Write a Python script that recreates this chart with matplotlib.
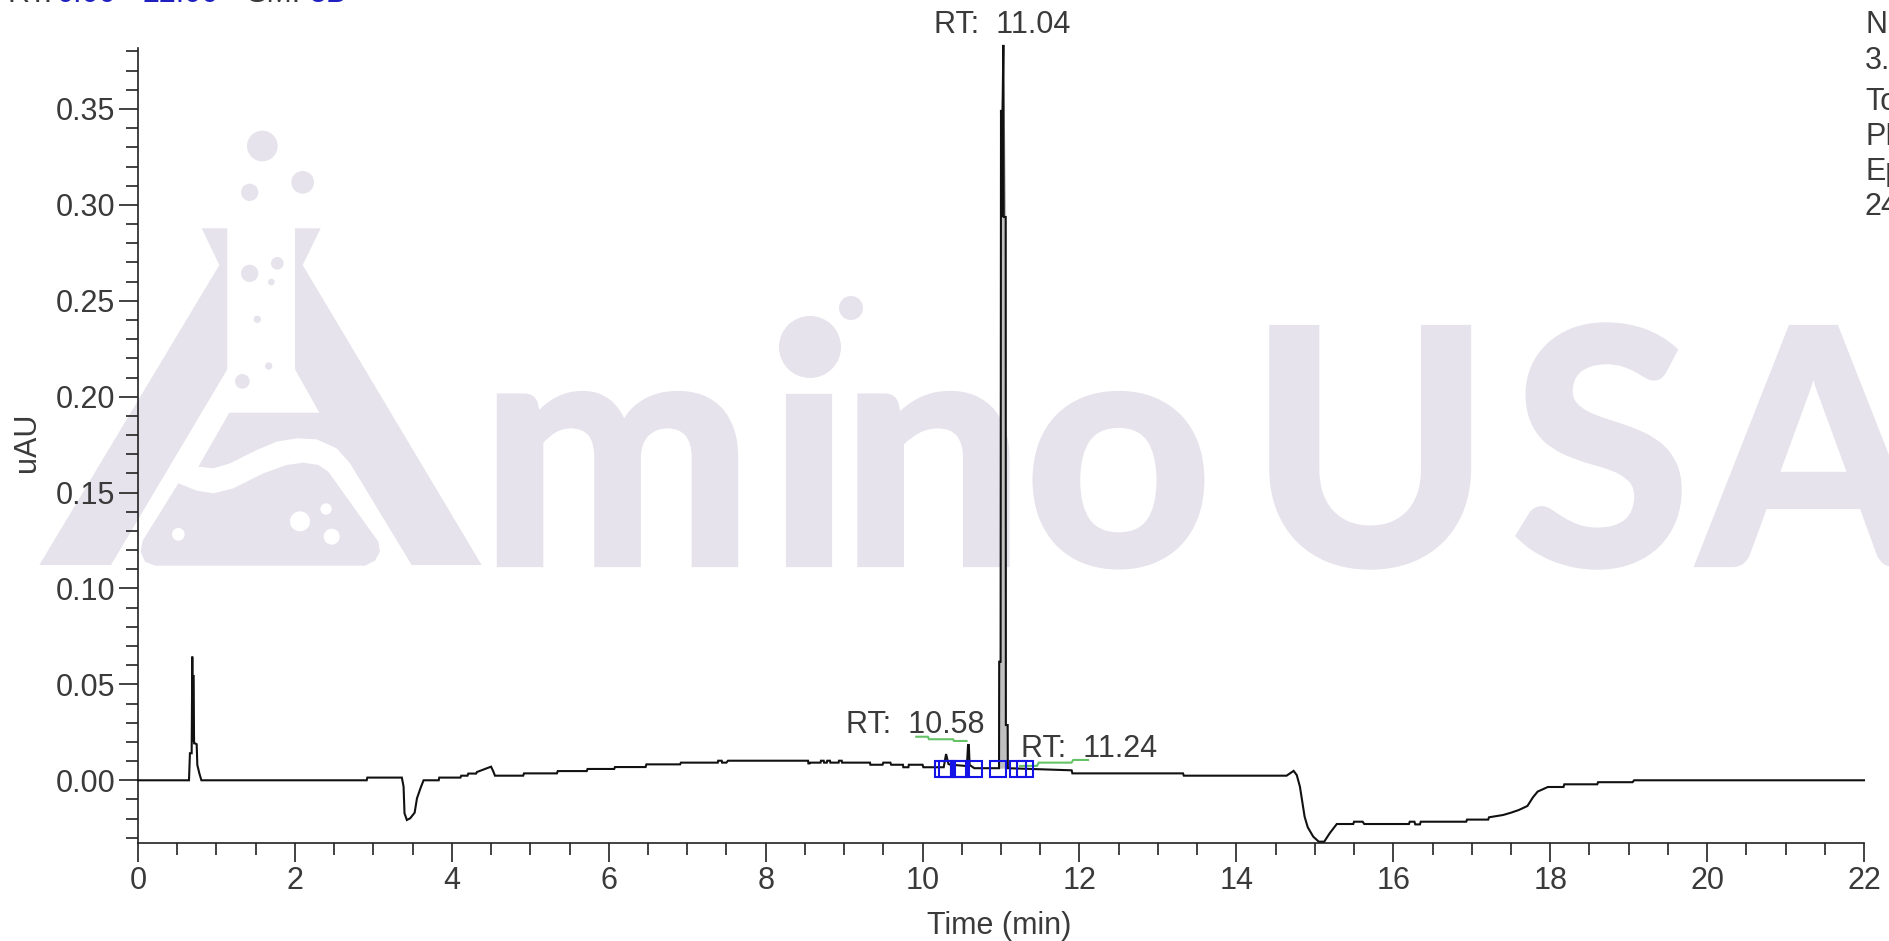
import matplotlib
matplotlib.use('Agg')
import matplotlib.pyplot as plt
import matplotlib.patheffects as pe
from matplotlib.patches import Polygon, Circle
from matplotlib.ticker import MultipleLocator, FixedLocator

# chromatogram trace
time_min = [0, 0.65, 0.662, 0.684, 0.692, 0.70, 0.705, 0.715, 0.722, 0.748, 0.756, 0.782, 0.808,
            2.915, 2.923, 3.363, 3.385, 3.397, 3.427, 3.47, 3.526, 3.556, 3.6, 3.64,
            3.833, 3.84, 4.11, 4.12, 4.2, 4.21, 4.31, 4.32, 4.41, 4.5, 4.53, 4.55,
            4.91, 4.92, 5.34, 5.35, 5.72, 5.73, 6.07, 6.08, 6.47, 6.48, 6.91, 6.92,
            7.39, 7.395, 7.44, 7.445, 7.5, 7.52, 8.54, 8.545, 8.56, 8.565, 8.65, 8.7, 8.705, 8.74, 8.745,
            8.78, 8.785, 8.82, 8.825, 8.93, 8.935, 8.97, 8.975, 9.33, 9.335, 9.49, 9.5, 9.59, 9.6,
            9.75, 9.755, 9.82, 9.825, 10.0, 10.01, 10.25, 10.27, 10.30, 10.33, 10.36, 10.40, 10.54,
            10.565, 10.58, 10.59, 10.60, 10.66, 10.975, 10.977, 10.995, 11.0, 11.01, 11.02, 11.03,
            11.035, 11.06, 11.062, 11.085, 11.087, 11.9, 11.91, 13.32, 13.33, 14.64, 14.73, 14.77,
            14.81, 14.84, 14.87, 14.91, 14.98, 15.05, 15.12, 15.19, 15.28, 15.49, 15.50, 15.61, 15.63,
            16.2, 16.21, 16.27, 16.28, 16.34, 16.35, 16.93, 16.94, 17.21, 17.22, 17.40, 17.5, 17.6,
            17.71, 17.78, 17.84, 17.97, 18.17, 18.18, 18.6, 18.61, 19.05, 19.07, 22]
uau = [0, 0, 0.0141, 0.0141, 0.0645, 0.02, 0.0549, 0.0193, 0.0193, 0.0188, 0.008, 0.0036, 0,
       0, 0.0014, 0.0014, -0.0033, -0.0172, -0.0207, -0.0198, -0.0169, -0.0094, -0.0042, 0,
       0, 0.0014, 0.0014, 0.0024, 0.0024, 0.0035, 0.0035, 0.0043, 0.0057, 0.0071, 0.0045, 0.0024,
       0.0024, 0.0036, 0.0036, 0.0048, 0.0048, 0.0059, 0.0059, 0.0069, 0.0069, 0.0083, 0.0083, 0.0092,
       0.0092, 0.0102, 0.0102, 0.0092, 0.0092, 0.0102, 0.0102, 0.0088, 0.0088, 0.0092, 0.0092, 0.0092, 0.0102, 0.0102, 0.0092,
       0.0092, 0.0102, 0.0102, 0.0092, 0.0092, 0.0102, 0.0102, 0.0092, 0.0092, 0.0081, 0.0081, 0.0092, 0.0092, 0.0081,
       0.0081, 0.0068, 0.0068, 0.0081, 0.0081, 0.0068, 0.0068, 0.0068, 0.0137, 0.0085, 0.0080, 0.008, 0.0075,
       0.0075, 0.0184, 0.0184, 0.008, 0.0063, 0.0063, 0.0618, 0.0618, 0.3495, 0.2937, 0.3495, 0.3834,
       0.2937, 0.2937, 0.0288, 0.0288, 0.0063, 0.0052, 0.0036, 0.0036, 0.0024, 0.0024, 0.0049, 0.0027,
       -0.0033, -0.0112, -0.019, -0.0245, -0.0294, -0.032, -0.032, -0.0276, -0.0228, -0.0228, -0.0216, -0.0216, -0.0228,
       -0.0228, -0.0216, -0.0216, -0.023, -0.023, -0.0216, -0.0216, -0.0205, -0.0205, -0.0193, -0.0181, -0.0169, -0.0155,
       -0.0134, -0.0089, -0.0059, -0.0035, -0.0035, -0.0021, -0.0021, -0.001, -0.001, 0, 0]

# shaded main peak
peak_t = [10.977, 10.995, 11.0, 11.03, 11.06, 11.062, 11.085]
peak_v = [0.0618, 0.0618, 0.3495, 0.3834, 0.2937, 0.0288, 0.0288]

# blue peak markers
marker_t = [10.26, 10.31, 10.46, 10.49, 10.66, 10.96, 11.22, 11.30]
marker_v = [0.006, 0.006, 0.006, 0.006, 0.006, 0.006, 0.006, 0.006]

# green label leaders
leader1_t = [9.92, 10.07, 10.08, 10.39, 10.40, 10.56]
leader1_v = [0.0227, 0.0227, 0.0214, 0.0214, 0.0205, 0.0205]
leader2_t = [11.24, 11.46, 11.48, 11.9, 11.92, 12.11]
leader2_v = [0.0075, 0.0075, 0.0092, 0.0092, 0.0106, 0.0106]

x_ticks = list(range(0, 24, 2))
y_ticks = [0.00, 0.05, 0.10, 0.15, 0.20, 0.25, 0.30, 0.35]
y_tick_labels = ['0.00', '0.05', '0.10', '0.15', '0.20', '0.25', '0.30', '0.35']
side_labels = ['NL', '3.', 'To', 'PD', 'Ep', '24']

W, H = 1890, 941
TXT = '#3a3a3a'
WM = '#e6e3ec'
FS = 22
plt.rcParams['font.family'] = ['Liberation Sans', 'DejaVu Sans']

fig = plt.figure(figsize=(W / 100, H / 100), dpi=100, facecolor='white')

# background layer in pixels for the watermark and the loose text
bg = fig.add_axes([0, 0, 1, 1], zorder=0)
bg.set_xlim(0, W)
bg.set_ylim(H, 0)
bg.axis('off')


def logo(pts):
    return [(30 + a / 3, 120 + b / 3) for a, b in pts]


left_leg = [(28, 1335), (568, 435), (515, 325), (592, 325), (592, 748), (243, 1335)]
right_leg = [(795, 325), (872, 325), (818, 435), (1355, 1335), (1145, 1335), (960, 1030), (920, 985),
             (860, 958), (800, 955), (740, 965), (680, 990), (600, 1030), (550, 1045), (505, 1040),
             (598, 878), (868, 878), (795, 748)]
liquid = [(445, 1090), (500, 1112), (550, 1120), (610, 1105), (700, 1060), (770, 1035), (820, 1028),
          (865, 1035), (895, 1055), (1045, 1265), (1050, 1295), (1035, 1322), (1005, 1337), (375, 1337),
          (345, 1325), (332, 1295), (338, 1262)]
for shape in (left_leg, right_leg, liquid):
    bg.add_patch(Polygon(logo(shape), closed=True, fc=WM, ec='none'))
for a, b, r in [(697, 78, 46), (818, 187, 34), (659, 217, 26), (659, 460, 26), (742, 430, 19),
                (724, 486, 10), (682, 598, 11), (716, 738, 11), (637, 784, 22)]:
    bg.add_patch(Circle((30 + a / 3, 120 + b / 3), r / 3, fc=WM, ec='none'))
for a, b, r in [(810, 1204, 30), (905, 1250, 24), (888, 1167, 17), (445, 1243, 19)]:
    bg.add_patch(Circle((30 + a / 3, 120 + b / 3), r / 3, fc='white', ec='none'))

# watermark letters placed one group at a time to land on the reference
thick = [pe.withStroke(linewidth=4.5, foreground=WM, joinstyle='miter')]
for x, s, ha in [(480, 'm', 'left'), (809, '\u0131', 'center'), (1212, 'no', 'right'),
                 (1249, 'U', 'left'), (1601, 'S', 'center'), (1700, 'A', 'left')]:
    bg.text(x, 564, s, fontsize=235, family='Lato', weight='bold', color=WM, va='baseline', ha=ha,
            path_effects=thick)
bg.add_patch(Circle((810, 347), 31, fc=WM, ec='none'))
bg.add_patch(Circle((851, 308), 12, fc=WM, ec='none'))

# header line, cut off by the top edge of the picture
for x, s, c in [(7, 'RT:', TXT), (57, '0.00', '#2020c0'), (143, '22.00', '#2020c0'),
                (247, 'SM:', TXT), (310, '5B', '#2020c0')]:
    bg.text(x, 2, s, fontsize=FS, color=c, va='baseline')
for y, s in zip([33, 69, 110, 145, 180, 215], side_labels):
    bg.text(1865, y, s, fontsize=FS, color=TXT, va='baseline')

# the chromatogram itself
ax = fig.add_axes([138 / W, 1 - 843 / H, (1864 - 138) / W, (843 - 48) / H], zorder=1)
ax.patch.set_alpha(0)
ax.fill_between(peak_t, 0.0063, peak_v, color='#c0c0c0', lw=0, zorder=2, clip_on=False)
ax.plot(time_min, uau, color='#111111', lw=1.5, solid_joinstyle='miter', zorder=3, clip_on=False)
ax.plot(leader1_t, leader1_v, color='#66c266', lw=1.5, zorder=3)
ax.plot(leader2_t, leader2_v, color='#66c266', lw=1.5, zorder=3)
ax.plot(marker_t, marker_v, ls='none', marker='s', ms=11.5, mfc='none', mec='#1414e6', mew=1.5, zorder=4)

ax.set_xlim(0, 22)
ax.set_ylim(-0.0327, 0.3818)
for side in ('top', 'right'):
    ax.spines[side].set_visible(False)
for side in ('left', 'bottom'):
    ax.spines[side].set_linewidth(1.2)
    ax.spines[side].set_color('#222222')

ax.set_xticks(x_ticks)
ax.xaxis.set_minor_locator(MultipleLocator(0.5))
ax.set_yticks(y_ticks)
ax.set_yticklabels(y_tick_labels)
ax.yaxis.set_minor_locator(FixedLocator([i / 100 for i in range(-3, 39)]))
ax.tick_params(which='major', length=13.5, width=1.2, color='#222222', labelsize=FS, labelcolor=TXT, pad=3)
ax.tick_params(which='minor', length=8.8, width=1.2, color='#222222')

ax.text(11.01, 0.3896, 'RT:  11.04', fontsize=FS, color=TXT, ha='center', va='baseline')
ax.text(9.02, 0.0245, 'RT:  10.58', fontsize=FS, color=TXT, ha='left', va='baseline')
ax.text(11.26, 0.0120, 'RT:  11.24', fontsize=FS, color=TXT, ha='left', va='baseline')

bg.text(999, 934, 'Time (min)', fontsize=FS, color=TXT, ha='center', va='baseline')
bg.text(27, 442, 'uAU', fontsize=FS, color=TXT, ha='center', va='center', rotation=90)

fig.savefig('out.png', dpi=100)
